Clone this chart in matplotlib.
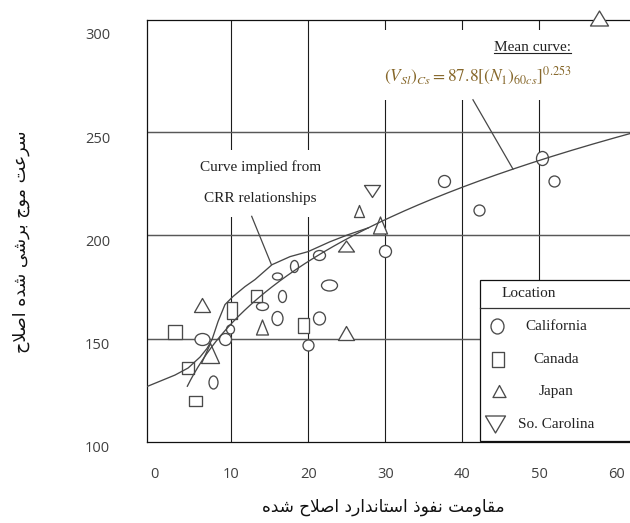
import numpy as np
import matplotlib
matplotlib.use("Agg")
import matplotlib.pyplot as plt
from matplotlib.path import Path
from matplotlib.patches import Rectangle
from matplotlib.lines import Line2D
from matplotlib.transforms import ScaledTranslation, IdentityTransform

# ---------------------------------------------------------------------------
# Field data: corrected blow count (N1)60cs and corrected shear-wave velocity
# ---------------------------------------------------------------------------
california_n = [6.2, 7.6, 9.2, 9.9, 14.0, 16.0, 18.1, 16.6, 16.0, 21.4,
                22.7, 21.4, 20.0, 30.0, 37.6, 42.2, 50.4, 51.9]
california_v = [149.6, 129.2, 149.6, 154.8, 165.7, 180.5, 185.4, 170.5, 160.1, 190.7,
                176.0, 160.1, 146.7, 192.3, 226.4, 212.4, 237.4, 226.4]

canada_n = [2.7, 4.35, 5.3, 10.1, 13.2, 19.3]
canada_v = [153.1, 135.6, 119.8, 164.1, 170.5, 156.4]

japan_n = [6.2, 7.3, 14.0, 24.9, 24.9, 26.6, 29.3, 57.8]
japan_v = [166.5, 143.2, 155.7, 152.9, 194.7, 211.9, 205.2, 305.2]

carolina_n = [28.25]
carolina_v = [221.3]

# Mean curve: Vs1 = 87.8 * (N1)60cs ^ 0.253
mean_coef = 87.8
mean_exp = 0.253
mean_n_start = 4.3

# Curve implied from CRR relationships
crr_n = [-0.9, 2.7, 4.4, 5.95, 6.86, 7.51, 8.29, 9.19, 10.23, 11.79,
         13.09, 15.3, 17.64, 19.97, 22.83, 25.17, 27.8]
crr_v = [126.9, 132.4, 135.8, 141.1, 145.3, 149.6, 158.3, 166.5, 170.4, 175.2,
         178.6, 185.8, 189.7, 192.1, 196.9, 200.3, 203.6]

x_ticks = [0, 10, 20, 30, 40, 50, 60]
y_ticks = [100, 150, 200, 250, 300]

legend_title = "Location"
legend_labels = ["California", "Canada", "Japan", "So. Carolina"]

x_title = "مقاومت نفوذ استاندارد اصلاح شده"
y_title = "سرعت موج برشی شده اصلاح"


# ---------------------------------------------------------------------------
# Minimal Persian shaping (contextual forms + right-to-left order)
# ---------------------------------------------------------------------------
FORMS = {
    "ا": ("\uFE8D", "\uFE8E", None, None),
    "ب": ("\uFE8F", "\uFE90", "\uFE91", "\uFE92"),
    "ت": ("\uFE95", "\uFE96", "\uFE97", "\uFE98"),
    "ج": ("\uFE9D", "\uFE9E", "\uFE9F", "\uFEA0"),
    "ح": ("\uFEA1", "\uFEA2", "\uFEA3", "\uFEA4"),
    "د": ("\uFEA9", "\uFEAA", None, None),
    "ذ": ("\uFEAB", "\uFEAC", None, None),
    "ر": ("\uFEAD", "\uFEAE", None, None),
    "س": ("\uFEB1", "\uFEB2", "\uFEB3", "\uFEB4"),
    "ش": ("\uFEB5", "\uFEB6", "\uFEB7", "\uFEB8"),
    "ص": ("\uFEB9", "\uFEBA", "\uFEBB", "\uFEBC"),
    "ع": ("\uFEC9", "\uFECA", "\uFECB", "\uFECC"),
    "ف": ("\uFED1", "\uFED2", "\uFED3", "\uFED4"),
    "ق": ("\uFED5", "\uFED6", "\uFED7", "\uFED8"),
    "ل": ("\uFEDD", "\uFEDE", "\uFEDF", "\uFEE0"),
    "م": ("\uFEE1", "\uFEE2", "\uFEE3", "\uFEE4"),
    "ن": ("\uFEE5", "\uFEE6", "\uFEE7", "\uFEE8"),
    "ه": ("\uFEE9", "\uFEEA", "\uFEEB", "\uFEEC"),
    "و": ("\uFEED", "\uFEEE", None, None),
    "ی": ("\uFEEF", "\uFEF0", "\uFEF3", "\uFEF4"),
}


def persian(text):
    chars = list(text)
    out = []
    i = 0
    while i < len(chars):
        c = chars[i]
        if c not in FORMS:
            out.append(c)
            i += 1
            continue
        prev = chars[i - 1] if i > 0 else None
        joins_prev = prev in FORMS and FORMS[prev][2] is not None
        if c == "ل" and i + 1 < len(chars) and chars[i + 1] == "ا":
            out.append("\uFEFC" if joins_prev else "\uFEFB")
            i += 2
            continue
        nxt = chars[i + 1] if i + 1 < len(chars) else None
        joins_next = nxt in FORMS and FORMS[c][2] is not None
        iso, fin, ini, med = FORMS[c]
        if joins_prev and joins_next:
            out.append(med)
        elif joins_prev:
            out.append(fin)
        elif joins_next:
            out.append(ini)
        else:
            out.append(iso)
        i += 1
    return "".join(reversed(out))


# ---------------------------------------------------------------------------
# Marker shapes (width, height in pixels) for the hand-drawn symbols
# ---------------------------------------------------------------------------
DPI = 100
PX2PT = 72.0 / DPI

california_shape = [(15, 12), (9, 13), (12, 12), (8, 9), (12, 8), (10, 7), (8, 12), (8, 12),
                    (11, 14), (12, 10), (16, 11), (12, 13), (11, 11), (12, 12), (12, 12),
                    (11, 11), (12, 14), (11, 11)]
canada_shape = [(14, 14), (12, 12), (13, 10), (10, 17), (11, 12), (11, 15)]
japan_shape = [(16, 14), (18, 20), (12, 15), (16, 14), (16, 11), (10, 12), (14, 17), (18, 15)]
carolina_shape = [(16, 12)]


def shape_path(kind, w, h):
    a, b = w / 2.0, h / 2.0
    if kind == "ellipse":
        uc = Path.unit_circle()
        return Path(uc.vertices * np.array([a, b]), uc.codes)
    if kind == "rect":
        verts = [(-a, -b), (a, -b), (a, b), (-a, b), (-a, -b)]
    elif kind == "tri_up":
        verts = [(-a, -b), (a, -b), (0, b), (-a, -b)]
    else:
        verts = [(-a, b), (a, b), (0, -b), (-a, b)]
    codes = [Path.MOVETO] + [Path.LINETO] * (len(verts) - 2) + [Path.CLOSEPOLY]
    return Path(verts, codes)


MARK_EDGE = "#4a4a4a"
CURVE = "#474747"
SERIF = ["Liberation Serif", "DejaVu Serif"]
TEXT_DARK = "#222222"


def draw_symbol(ax, x, y, kind, w, h, zorder=3, clip=True):
    ax.plot([x], [y], linestyle="none", marker=shape_path(kind, w, h),
            markersize=max(w, h) * PX2PT, markerfacecolor="white",
            markeredgecolor=MARK_EDGE, markeredgewidth=0.95,
            zorder=zorder, clip_on=clip)


# ---------------------------------------------------------------------------
# Figure
# ---------------------------------------------------------------------------
plt.rcParams["mathtext.fontset"] = "stix"

W, H = 630, 523
fig = plt.figure(figsize=(W / DPI, H / DPI), dpi=DPI)
ax = fig.add_axes([147 / W, 1 - 442 / H, 1 - 147 / W, (442 - 20) / H])

x_min, x_max = -0.94, 61.8
y_min, y_max = 100.34, 304.2
ax.set_xlim(x_min, x_max)
ax.set_ylim(y_min, y_max)

for side in ("left", "top", "bottom"):
    ax.spines[side].set_color("#111111")
    ax.spines[side].set_linewidth(0.9)
ax.spines["right"].set_visible(False)

# Grid
for gx in [10, 20, 30, 40, 50]:
    ax.axvline(gx, color="#1c1c1c", lw=0.8, zorder=1)
for gy in [150, 200, 250]:
    ax.axhline(gy, color="#585858", lw=1.05, zorder=1)

# Ticks
ax.set_xticks(x_ticks)
ax.set_yticks(y_ticks)
ax.set_xticklabels([str(t) for t in x_ticks])
ax.set_yticklabels([str(t) for t in y_ticks])
ax.tick_params(axis="both", length=0, labelcolor="#404040", labelsize=10.5)
ax.tick_params(axis="x", pad=18)
ax.tick_params(axis="y", pad=26.5)
for lab in ax.get_xticklabels() + ax.get_yticklabels():
    lab.set_fontfamily(["Open Sans", "DejaVu Sans"])
for lab in ax.get_yticklabels():
    lab.set_transform(lab.get_transform() + ScaledTranslation(0, -0.05, fig.dpi_scale_trans))

# White boxes behind the annotation texts
ax.add_patch(Rectangle((5.3, 209.0), 22.2 - 5.3, 241.4 - 209.0, facecolor="white",
                       edgecolor="none", zorder=2))
ax.add_patch(Rectangle((29.1, 265.6), 70 - 29.1, 299.4 - 265.6, facecolor="white",
                       edgecolor="none", zorder=2))

# Data symbols
for n, v, (w, h) in zip(california_n, california_v, california_shape):
    draw_symbol(ax, n, v, "ellipse", w, h)
for n, v, (w, h) in zip(canada_n, canada_v, canada_shape):
    draw_symbol(ax, n, v, "rect", w, h)
for n, v, (w, h) in zip(japan_n, japan_v, japan_shape):
    draw_symbol(ax, n, v, "tri_up", w, h, clip=False)
for n, v, (w, h) in zip(carolina_n, carolina_v, carolina_shape):
    draw_symbol(ax, n, v, "tri_down", w, h)

# Curves
mean_n = np.linspace(mean_n_start, x_max + 1, 300)
mean_v = mean_coef * mean_n ** mean_exp
ax.plot(mean_n, mean_v, color=CURVE, lw=0.95, zorder=4)
ax.plot(crr_n, crr_v, color=CURVE, lw=0.95, zorder=4)

# Annotations
ax.text(13.77, 233.2, "Curve implied from", ha="center", va="center",
        family=SERIF, fontsize=11, color=TEXT_DARK, zorder=5)
ax.text(13.77, 217.7, "CRR relationships", ha="center", va="center",
        family=SERIF, fontsize=11, color=TEXT_DARK, zorder=5)
ax.plot([12.66, 15.2], [209.2, 186.0], color=CURVE, lw=0.9, zorder=4)

mean_txt = ax.text(49.1, 290.7, "Mean curve:", ha="center", va="center",
                   family=SERIF, fontsize=11, color=TEXT_DARK, zorder=5)
ax.text(42.0, 277.3, r"$(V_{Sl})_{Cs} = 87.8[(N_1)_{60cs}]^{0.253}$",
        ha="center", va="center", fontsize=12.5, color="#86672a", zorder=5)
n_lead = 46.6
ax.plot([41.4, n_lead], [265.6, mean_coef * n_lead ** mean_exp], color=CURVE,
        lw=0.9, zorder=4)

# Legend block
lx0 = 42.3
ax.add_patch(Rectangle((lx0, y_min), 70 - lx0, 178.6 - y_min, facecolor="white",
                       edgecolor="#111111", lw=0.9, zorder=6))
ax.plot([lx0, 70], [164.6, 164.6], color="#333333", lw=0.9, zorder=7)
ax.text(48.6, 171.8, legend_title, ha="center", va="center", family=SERIF,
        fontsize=11, color=TEXT_DARK, zorder=7)
legend_kinds = [("ellipse", 13, 15), ("rect", 12, 15), ("tri_up", 13, 12), ("tri_down", 20, 17)]
legend_rows = [155.9, 140.0, 124.5, 108.6]
legend_sym_x = [44.5, 44.6, 44.8, 44.3]
for (kind, w, h), yy, xx, lab in zip(legend_kinds, legend_rows, legend_sym_x, legend_labels):
    draw_symbol(ax, xx, yy, kind, w, h, zorder=8)
    ax.text(52.2, yy, lab, ha="center", va="center", family=SERIF, fontsize=11,
            color=TEXT_DARK, zorder=8)

# Axis titles (Persian)
fig.text(383 / W, 1 - 507 / H, persian(x_title), ha="center", va="center",
         family=["DejaVu Sans"], fontsize=12.2, color="#111111")
fig.text(21 / W, 1 - 242 / H, persian(y_title), ha="center", va="center",
         rotation=90, family=["DejaVu Sans"], fontsize=12.6, color="#111111")

# Underline for "Mean curve:"
fig.canvas.draw()
bb = mean_txt.get_window_extent()
fig.add_artist(Line2D([bb.x0, bb.x1], [bb.y0 + 1.5, bb.y0 + 1.5],
                      transform=IdentityTransform(), color=TEXT_DARK, lw=0.8))

fig.savefig("out.png", dpi=DPI)
